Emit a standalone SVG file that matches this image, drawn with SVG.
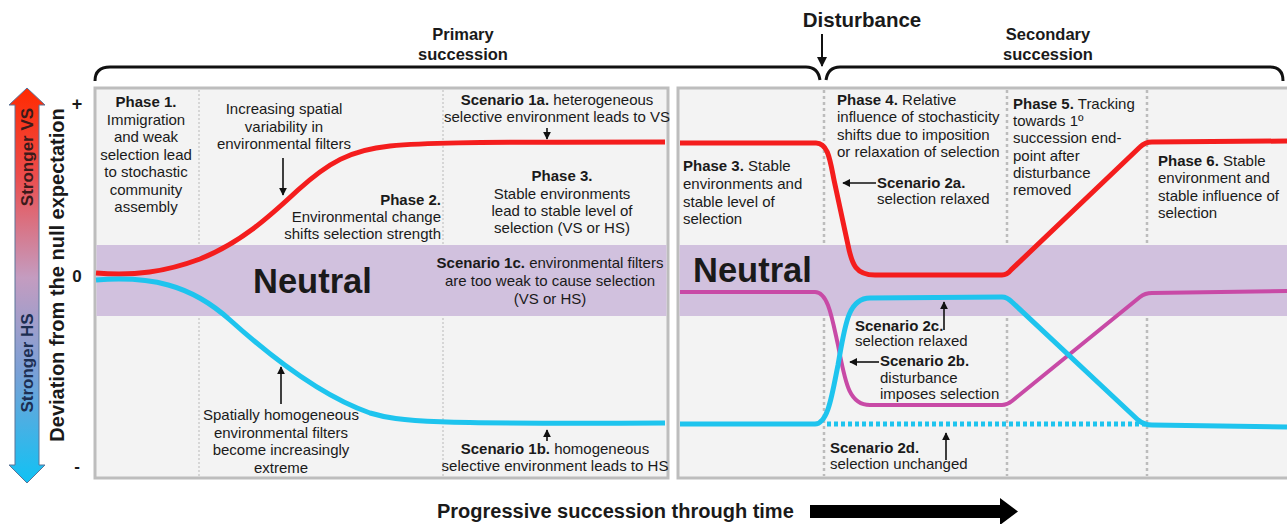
<svg xmlns="http://www.w3.org/2000/svg" width="1287" height="524" viewBox="0 0 1287 524">
<style>
.t{font-family:'Liberation Sans',Arial,sans-serif;font-size:15px;fill:#1a1a1a}
.b{font-weight:bold}
.c{text-anchor:middle}
.e{text-anchor:end}
.panel{fill:#f3f3f3;stroke:#bdbdbd;stroke-width:3}
.band{fill:#d1c1de}
.dl{stroke:#c4c4c4;stroke-width:1.2;stroke-dasharray:2 2;fill:none}
.dr{stroke:#bcbcbc;stroke-width:2.5;stroke-dasharray:3 3;fill:none}
.red{stroke:#f41d1d;stroke-width:5;fill:none}
.cy{stroke:#1ec4ee;stroke-width:5;fill:none}
.mg{stroke:#c84aa6;stroke-width:4;fill:none}
.arr{stroke:#111;stroke-width:1.6;fill:none;marker-end:url(#ah)}
.big{font-size:34.5px}
</style>
<defs>
<marker id="ah" viewBox="0 0 10 10" refX="9" refY="5" markerWidth="5" markerHeight="5" orient="auto" markerUnits="strokeWidth">
<path d="M0,0 L10,5 L0,10 z" fill="#111"/>
</marker>
<linearGradient id="ag" x1="0" y1="0" x2="0" y2="1">
<stop offset="0" stop-color="#ff2a00"/>
<stop offset="0.22" stop-color="#ec4c4c"/>
<stop offset="0.48" stop-color="#c49cc0"/>
<stop offset="0.72" stop-color="#7aa0d6"/>
<stop offset="1" stop-color="#10c2f4"/>
</linearGradient>
</defs>

<g id="axis">
<path d="M27,88 L45,105 L39,105 L39,465 L45,465 L27,483 L9,465 L15,465 L15,105 L9,105 Z" fill="url(#ag)" stroke="#5a7498" stroke-width="1"/>
<text class="t b c" style="fill:#3c1a1a;font-size:17px" transform="translate(33,157) rotate(-90)">Stronger VS</text>
<text class="t b c" style="fill:#1c2e52;font-size:17px" transform="translate(33,363) rotate(-90)">Stronger HS</text>
<text class="t b c" style="font-size:20px" transform="translate(64,275) rotate(-90)">Deviation from the null expectation</text>
<text class="t b c" style="font-size:18px" x="77" y="110">+</text>
<text class="t b c" style="font-size:17px" x="77" y="282">0</text>
<text class="t b c" style="font-size:17px" x="77" y="472">-</text>
</g>

<g id="bracket">
<path d="M95,81 Q95,67 110,67 L806,67 Q818,67 820,80 M826,80 Q828,67 840,67 L1270,67 Q1283,67 1283,81" fill="none" stroke="#111" stroke-width="3"/>
<text class="t b c" style="font-size:16.5px" x="463" y="40">Primary</text>
<text class="t b c" style="font-size:16.5px" x="463" y="60">succession</text>
<text class="t b c" style="font-size:16.5px" x="1048" y="40">Secondary</text>
<text class="t b c" style="font-size:16.5px" x="1048" y="60">succession</text>
<text class="t b c" style="font-size:20.5px" x="862" y="27">Disturbance</text>
<line x1="822" y1="34" x2="822" y2="66" stroke="#111" stroke-width="2" marker-end="url(#ah)"/>
</g>

<g id="panel-primary">
<rect class="panel" x="95" y="88" width="573" height="390"/>
<line class="dl" x1="199" y1="90" x2="199" y2="476"/>
<line class="dl" x1="443" y1="90" x2="443" y2="476"/>
<rect class="band" x="96.5" y="245" width="570" height="71"/>
</g>

<g id="panel-secondary">
<rect class="panel" x="678" y="88" width="615" height="390"/>
<line class="dr" x1="824" y1="90" x2="824" y2="476"/>
<line class="dr" x1="1007" y1="90" x2="1007" y2="476"/>
<line class="dr" x1="1147" y1="90" x2="1147" y2="476"/>
<rect class="band" x="679.5" y="245" width="612" height="71"/>
</g>

<g id="curves">
<path class="red" d="M96,273 C135,276 165,272 200,259 C240,243 268,218 298,190 C328,163 350,150 390,146 C420,143 450,142 665,142"/>
<path class="cy" d="M96,280 C150,276 190,284 230,320 C270,356 320,396 370,413 C400,422 430,424 665,423"/>
<path class="red" d="M680,143 L816,143 C828,143 830,160 834,180 L848,245 C852,265 856,275 875,275 L1002,275 Q1007,275 1011,270 L1140,147 Q1145,142 1152,142 L1287,141"/>
<path class="mg" d="M680,292 L815,292 C828,292 832,318 838,345 C845,380 848,405 870,405 L1002,405 Q1007,405 1012,401 L1140,297 Q1145,293 1152,293 L1287,291"/>
<path class="cy" d="M680,424 L815,424 C828,424 832,395 838,365 C845,325 848,298 870,298 L1002,297 Q1007,297 1012,302 L1138,420 Q1144,425 1152,425 L1287,427"/>
<line class="cy" x1="827" y1="424" x2="1145" y2="424" stroke-dasharray="4 3" stroke-width="4.5"/>
</g>

<g id="labels-primary">
<text class="t c"><tspan class="b" x="146" y="107">Phase 1.</tspan><tspan x="146" y="124.5">Immigration</tspan><tspan x="146" y="142">and weak</tspan><tspan x="146" y="159.5">selection lead</tspan><tspan x="146" y="177">to stochastic</tspan><tspan x="146" y="194.5">community</tspan><tspan x="146" y="212">assembly</tspan></text>
<text class="t c"><tspan x="284" y="114">Increasing spatial</tspan><tspan x="284" y="131.5">variability in</tspan><tspan x="284" y="149">environmental filters</tspan></text>
<text class="t e"><tspan class="b" x="441" y="205">Phase 2.</tspan><tspan x="441" y="222">Environmental change</tspan><tspan x="441" y="239">shifts selection strength</tspan></text>
<text class="t c" x="557" y="105"><tspan class="b">Scenario 1a.</tspan> heterogeneous</text>
<text class="t c" x="557" y="122">selective environment leads to VS</text>
<text class="t c"><tspan class="b" x="562" y="181">Phase 3.</tspan><tspan x="562" y="199">Stable environments</tspan><tspan x="562" y="216">lead to stable level of</tspan><tspan x="562" y="233">selection (VS or HS)</tspan></text>
<text class="t b big" x="253" y="293">Neutral</text>
<text class="t c" x="550" y="268"><tspan class="b">Scenario 1c.</tspan> environmental filters</text>
<text class="t c" x="550" y="286">are too weak to cause selection</text>
<text class="t c" x="550" y="304">(VS or HS)</text>
<text class="t c"><tspan x="281" y="420">Spatially homogeneous</tspan><tspan x="281" y="438">environmental filters</tspan><tspan x="281" y="455">become increasingly</tspan><tspan x="281" y="473">extreme</tspan></text>
<text class="t c" x="555" y="454"><tspan class="b">Scenario 1b.</tspan> homogeneous</text>
<text class="t c" x="555" y="471">selective environment leads to HS</text>
</g>

<g id="labels-secondary">
<text class="t"><tspan class="b" x="683" y="171">Phase 3.</tspan><tspan> Stable</tspan><tspan x="683" y="189">environments and</tspan><tspan x="683" y="207">stable level of</tspan><tspan x="683" y="224">selection</tspan></text>
<text class="t b big" x="693" y="282">Neutral</text>
<text class="t"><tspan class="b" x="837" y="105">Phase 4.</tspan><tspan> Relative</tspan><tspan x="837" y="122">influence of stochasticity</tspan><tspan x="837" y="140">shifts due to imposition</tspan><tspan x="837" y="157">or relaxation of selection</tspan></text>
<text class="t"><tspan class="b" x="877" y="188">Scenario 2a.</tspan><tspan x="877" y="204">selection relaxed</tspan></text>
<text class="t"><tspan class="b" x="1013" y="109">Phase 5.</tspan><tspan> Tracking</tspan><tspan x="1013" y="126">towards 1º</tspan><tspan x="1013" y="143">succession end-</tspan><tspan x="1013" y="161">point after</tspan><tspan x="1013" y="178">disturbance</tspan><tspan x="1013" y="195">removed</tspan></text>
<text class="t"><tspan class="b" x="1158" y="166">Phase 6.</tspan><tspan> Stable</tspan><tspan x="1158" y="183">environment and</tspan><tspan x="1158" y="201">stable influence of</tspan><tspan x="1158" y="218">selection</tspan></text>
<text class="t"><tspan class="b" x="855" y="331">Scenario 2c.</tspan><tspan x="855" y="346">selection relaxed</tspan></text>
<text class="t"><tspan class="b" x="880" y="366">Scenario 2b.</tspan><tspan x="880" y="383">disturbance</tspan><tspan x="880" y="399">imposes selection</tspan></text>
<text class="t"><tspan class="b" x="830" y="453">Scenario 2d.</tspan><tspan x="830" y="469">selection unchanged</tspan></text>
</g>

<g id="connectors">
<line class="arr" x1="283" y1="158" x2="283" y2="195"/>
<line class="arr" x1="547" y1="128" x2="547" y2="139"/>
<line class="arr" x1="281" y1="404" x2="281" y2="367"/>
<line class="arr" x1="547" y1="441" x2="547" y2="430"/>
<line class="arr" x1="876" y1="183" x2="843" y2="183"/>
<line class="arr" x1="944" y1="330" x2="944" y2="302"/>
<line class="arr" x1="879" y1="362" x2="850" y2="362"/>
<line class="arr" x1="946" y1="460" x2="946" y2="433"/>
</g>

<g id="time-axis">
<text class="t b" style="font-size:20px" x="437" y="518">Progressive succession through time</text>
<path d="M810,505 L1000,505 L1000,498 L1018,511.5 L1000,525 L1000,518 L810,518 Z" fill="#000"/>
</g>
</svg>
